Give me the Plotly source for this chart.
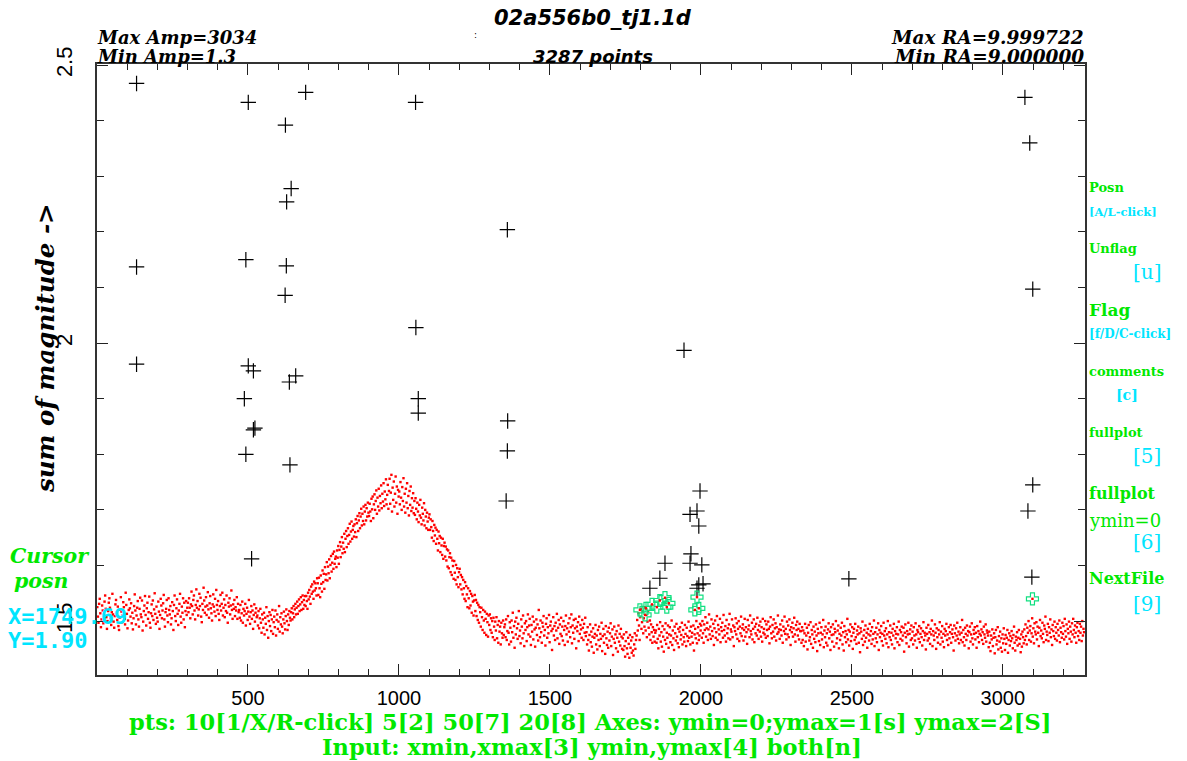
import plotly.graph_objects as go

# ---------------- data ----------------
# red points: sum of magnitude, stored as thousandths above 1.0,
# one value for every 2nd point number (1, 3, 5, ...)
band_step = 2
band_y_milli = [
    # 1-300
    525,508,497,531,540,514,489,503,528,519,
    496,511,535,546,522,507,486,500,518,533,
    541,524,505,493,516,549,512,499,488,509,
    530,538,515,502,526,491,484,506,521,543,
    517,498,510,534,525,504,494,551,529,513,
    487,501,520,539,523,508,532,496,515,485,
    505,527,548,519,494,510,524,536,503,490,
    522,542,512,507,537,483,499,518,528,545,
    511,492,523,533,504,516,544,497,488,514,
    530,509,537,502,521,550,513,495,526,506,
    499,535,517,486,511,540,528,505,519,532,
    547,503,490,516,522,538,510,498,541,520,
    512,527,494,505,534,518,484,529,546,509,
    500,523,539,513,493,519,531,549,508,497,
    526,515,541,503,533,489,518,536,511,524,
    # 301-470
    533,516,541,524,505,530,553,527,512,538,
    546,519,503,529,557,524,536,510,521,549,
    527,542,508,498,531,520,560,537,515,526,
    543,511,528,552,521,506,532,545,523,514,
    501,530,548,526,517,540,509,556,529,520,
    536,513,502,527,547,519,531,551,510,524,
    539,507,529,518,546,515,497,533,526,541,
    512,528,555,520,504,530,522,538,509,525,
    519,543,504,531,516,
    # 471-530
    520,506,529,501,514,535,497,522,510,518,
    531,492,513,524,502,517,538,508,495,516,
    527,504,519,486,511,530,499,515,523,507,
    # 531-640
    510,492,518,487,505,522,497,479,512,503,
    488,515,476,506,495,525,484,509,470,500,
    516,491,511,482,503,520,477,498,508,489,
    519,474,502,512,486,499,527,481,507,494,
    514,490,478,503,517,496,485,509,521,500,
    484,512,493,518,506,
    # 641-690
    501,516,523,503,514,527,507,521,531,512,
    524,535,513,527,539,518,530,543,520,534,
    546,522,538,529,545,
    # 691-730
    527,545,536,522,551,539,556,544,531,562,
    549,566,553,540,571,555,568,559,546,577,
    # 731-790
    568,547,578,559,543,582,567,553,591,570,
    585,558,597,574,584,606,573,598,586,611,
    577,601,617,589,605,621,594,625,603,612,
    # 791-850
    616,597,627,614,635,603,628,642,615,634,
    651,622,641,630,657,624,648,662,633,653,
    667,639,655,675,643,661,679,648,664,671,
    # 851-900
    652,674,660,683,651,676,689,662,681,694,
    667,688,702,672,693,680,706,674,697,709,
    681,703,688,713,695,
    # 901-960
    689,711,697,680,720,701,724,685,710,728,
    700,716,735,693,722,706,738,699,725,712,
    744,703,729,715,748,707,733,719,755,710,
    # 961-1000
    727,745,702,734,756,711,731,763,697,740,
    718,751,706,729,760,713,742,693,736,724,
    # 1001-1050
    733,710,750,722,700,741,716,757,706,729,
    695,738,713,748,703,725,690,734,709,742,
    698,721,704,730,694,
    # 1051-1100
    716,691,721,702,683,713,697,678,709,690,
    718,686,674,704,693,681,712,672,700,688,
    667,695,679,664,686,
    # 1101-1150
    692,664,683,669,650,680,662,644,673,654,
    668,639,664,648,627,661,640,653,624,650,
    636,619,648,612,635,
    # 1151-1200
    641,616,634,609,629,598,627,595,615,622,
    588,614,583,609,599,576,608,587,574,601,
    566,595,579,561,588,
    # 1201-1250
    594,566,583,557,579,548,574,559,540,570,
    536,563,548,525,559,541,523,554,528,549,
    515,545,535,510,537,
    # 1251-1300
    547,518,538,509,533,502,529,497,525,516,
    490,524,507,484,520,501,479,517,504,475,
    513,498,472,510,493,
    # 1301-1350
    512,484,505,479,500,471,506,490,466,499,
    483,507,469,493,461,500,481,490,458,497,
    478,470,501,475,489,
    # 1351-1620
    494,471,503,466,482,509,479,458,498,488,
    463,501,480,515,470,491,452,499,476,506,
    487,468,495,518,473,483,460,503,490,469,
    510,478,455,496,484,500,464,489,512,476,
    492,504,472,457,493,481,508,467,499,485,
    454,488,503,475,494,465,520,487,471,501,
    480,461,497,490,509,474,484,456,495,505,
    470,489,478,511,462,492,499,482,448,486,
    507,474,491,466,497,483,513,469,488,502,
    459,494,477,506,473,490,465,500,484,457,
    491,510,476,487,463,496,481,505,471,489,
    512,460,492,479,502,468,487,504,451,490,
    482,498,464,508,477,493,485,470,502,488,
    466,495,479,506,473,
    # 1621-1740
    480,458,489,466,447,475,494,462,481,454,
    472,487,443,470,477,493,458,474,449,484,
    466,490,455,477,468,497,446,473,486,461,
    476,441,491,469,457,481,452,488,465,478,
    496,455,472,485,439,468,490,461,476,451,
    482,470,445,492,463,477,456,486,472,450,
    # 1741-1785
    469,448,476,455,436,464,480,451,441,470,
    459,434,475,452,465,443,471,447,438,458,
    478,450,466,
    # 1786-1850
    474,502,483,514,492,466,507,522,486,498,
    517,478,505,490,525,483,511,471,499,518,
    488,476,501,466,494,480,461,489,472,484,
    463,479,
    # 1851-2000
    483,461,493,468,451,486,474,498,463,480,
    454,491,472,445,485,466,496,459,479,470,
    492,452,476,489,462,474,501,457,483,469,
    448,490,478,465,495,472,460,486,453,481,
    489,467,475,497,458,484,471,463,493,477,
    455,488,473,464,499,470,482,458,490,472,
    479,461,492,447,476,486,469,500,460,478,
    489,466,474,495,483,
    # 2001-2330
    492,470,500,478,461,494,484,507,472,487,
    497,466,485,512,476,490,468,503,482,473,
    495,457,487,501,470,480,509,466,493,485,
    476,504,462,489,482,497,470,511,484,474,
    491,463,502,478,487,469,494,513,467,485,
    481,503,471,492,455,489,482,505,476,496,
    468,486,500,464,490,478,508,473,487,494,
    465,484,504,472,489,480,459,502,485,492,
    471,510,482,476,497,467,486,503,462,490,
    478,495,474,506,484,468,492,481,499,472,
    489,463,504,479,486,476,500,470,494,484,
    473,499,486,460,490,507,478,469,493,481,
    503,472,487,496,465,489,477,510,480,485,
    468,494,484,474,501,461,490,482,508,477,
    486,467,499,476,492,471,503,484,457,489,
    480,497,472,487,506,476,463,493,484,499,
    474,486,467,495,482,
    # 2331-2950
    482,461,489,466,483,455,478,495,463,474,
    488,449,479,493,465,471,498,459,484,476,
    452,490,468,481,462,494,474,446,486,478,
    464,497,457,479,489,467,476,502,453,483,
    471,490,461,478,456,485,496,469,481,448,
    489,475,463,494,476,454,486,480,500,460,
    469,483,492,451,477,466,488,474,497,458,
    480,447,491,471,482,462,476,504,467,484,
    456,481,494,464,473,489,450,479,486,466,
    495,471,459,483,476,490,461,478,444,487,
    481,468,499,457,474,484,463,492,470,479,
    452,486,476,465,495,474,482,459,489,467,
    477,501,455,480,469,488,462,476,496,448,
    484,471,479,491,464,477,456,497,474,482,
    468,487,460,476,500,453,480,471,492,466,
    479,458,486,474,495,451,482,469,477,489,
    462,476,499,457,484,468,480,490,465,474,
    488,445,479,494,471,460,482,476,497,454,
    477,485,466,492,469,481,458,489,474,465,
    496,476,452,484,480,468,491,462,477,487,
    471,456,482,498,466,479,474,449,488,477,
    465,493,469,480,459,486,476,501,455,482,
    474,466,494,479,450,487,471,461,484,476,
    498,458,481,470,491,463,477,453,486,474,
    482,495,466,476,457,489,469,480,493,461,
    477,485,471,447,492,478,465,487,474,497,
    468,481,460,476,489,466,479,502,462,484,
    471,456,488,477,466,492,474,482,451,480,
    490,463,476,496,469,458,484,477,489,467,
    479,452,491,471,482,462,477,499,474,485,
    466,480,459,490,476,470,494,463,483,479,
    # 2951-3070
    474,453,481,461,446,474,467,485,455,470,
    478,442,471,484,458,465,489,449,473,463,
    481,452,469,445,476,460,487,468,448,475,
    459,470,484,443,466,478,456,473,464,482,
    469,451,475,490,461,447,472,466,480,456,
    470,484,459,468,444,476,454,481,471,460,
    # 3071-3270
    485,466,494,473,458,488,479,500,466,483,
    491,463,478,505,472,487,460,496,481,476,
    498,467,490,479,455,488,502,473,483,469,
    497,477,462,492,486,508,466,481,475,495,
    464,489,479,503,471,485,457,493,482,473,
    499,468,489,479,465,495,484,474,501,462,
    488,480,470,497,477,491,467,504,482,472,
    494,459,486,478,499,468,490,481,463,496,
    476,504,484,471,492,479,461,489,497,473,
    482,466,495,479,490,464,500,474,486,480,
]
band_x = [1 + band_step * k for k in range(len(band_y_milli))]
band_y = [1 + v / 1000 for v in band_y_milli]

# black crosses (unflagged outliers)
outlier_x = [131, 501, 691, 1055, 624, 643, 628, 1359, 131, 493, 627, 623, 1056,
             131, 501, 518, 658, 637, 488, 1064, 1064, 523, 518, 1360, 493, 1359,
             639, 1355, 512, 3073, 3089, 3099, 3099, 3083, 3096, 2490, 1944, 1997,
             1964, 1987, 1993, 1967, 1964, 2003, 1881, 1864, 1831, 1993, 2007, 1987]
outlier_y = [2.467, 2.433, 2.451, 2.433, 2.392, 2.278, 2.254, 2.204, 2.137, 2.150,
             2.139, 2.086, 2.028, 1.962, 1.959, 1.950, 1.941, 1.930, 1.900, 1.900,
             1.874, 1.847, 1.844, 1.860, 1.800, 1.806, 1.781, 1.716, 1.612, 2.442,
             2.360, 2.097, 1.745, 1.698, 1.579, 1.576, 1.987, 1.734, 1.692, 1.698,
             1.671, 1.621, 1.604, 1.601, 1.604, 1.577, 1.559, 1.565, 1.567, 1.559]

# green open crosses (flagged points)
flag_x = [1798, 1818, 1815, 1838, 1854, 1864, 1881, 1887, 1894, 1987, 1980, 1993, 3098]
flag_y = [1.520, 1.523, 1.511, 1.530, 1.525, 1.537, 1.542, 1.525, 1.532, 1.543,
          1.520, 1.523, 1.540]

x_tick_vals = [500, 1000, 1500, 2000, 2500, 3000]
y_tick_vals = [1.5, 2.0, 2.5]
y_tick_text = ["1.5", "2", "2.5"]
x_range = [0, 3272]
y_range = [1.403, 2.502]

# ---------------- figure ----------------
W, H = 1187, 761
L, R, T, B = 97, 1085, 64, 675
GREEN = "#00e800"
CYAN = "#00e5ff"
FLAG = "#10e080"

fig = go.Figure()
fig.add_trace(go.Scatter(x=band_x, y=band_y, mode="markers",
                         marker=dict(symbol="square", size=2.4, color="#ff0000",
                                     line=dict(width=0)),
                         hoverinfo="skip"))
fig.add_trace(go.Scatter(x=outlier_x, y=outlier_y, mode="markers",
                         marker=dict(symbol="cross-thin", size=11,
                                     line=dict(width=1.2, color="black")),
                         hoverinfo="skip"))
fig.add_trace(go.Scatter(x=flag_x, y=flag_y, mode="markers",
                         marker=dict(symbol="cross-open", size=10, color=FLAG,
                                     line=dict(width=1.2, color=FLAG)),
                         hoverinfo="skip"))
fig.add_trace(go.Scatter(x=flag_x, y=flag_y, mode="markers",
                         marker=dict(symbol="square", size=2.4, color="#ff0000"),
                         hoverinfo="skip"))


def ann(text, px, py, size, color, family, xanchor="left", weight="normal",
        style="normal", angle=0):
    return dict(text=text, x=(px - L) / (R - L), y=(B - py) / (B - T),
                xref="paper", yref="paper", xanchor=xanchor, yanchor="middle",
                showarrow=False, textangle=angle,
                font=dict(size=size, color=color, family=family,
                          weight=weight, style=style))


SERIF = "DejaVu Serif"
annots = [
    ann("02a556b0_tj1.1d", 593, 18, 21, "black", "DejaVu Sans", "center", "bold", "italic"),
    ann(":", 475, 35, 9, "black", "DejaVu Sans", "center"),
    ann("Max Amp=3034", 95, 37, 18, "black", SERIF, "left", "bold", "italic"),
    ann("Min Amp=1.3", 95, 56, 18, "black", SERIF, "left", "bold", "italic"),
    ann("3287 points", 593, 56, 18, "black", "DejaVu Sans", "center", "bold", "italic"),
    ann("Max RA=9.999722", 1086, 37, 18.5, "black", SERIF, "right", "bold", "italic"),
    ann("Min RA=9.000000", 1086, 56, 18.5, "black", SERIF, "right", "bold", "italic"),
    ann("sum of magnitude ->", 45, 348, 24.5, "black", SERIF, "center", "bold", "italic", -90),
    # right-hand menu
    ann("Posn", 1087, 187, 13, GREEN, SERIF, "left", "bold"),
    ann("[A/L-click]", 1087, 212, 11.5, CYAN, SERIF, "left", "bold"),
    ann("Unflag", 1087, 248, 13, GREEN, SERIF, "left", "bold"),
    ann("[u]", 1147, 272, 20, CYAN, SERIF, "center"),
    ann("Flag", 1087, 310, 17, GREEN, SERIF, "left", "bold"),
    ann("[f/D/C-click]", 1087, 334, 12, CYAN, SERIF, "left", "bold"),
    ann("comments", 1087, 371, 13, GREEN, SERIF, "left", "bold"),
    ann("[c]", 1127, 395, 14, CYAN, SERIF, "center", "bold"),
    ann("fullplot", 1087, 433, 13, GREEN, SERIF, "left", "bold"),
    ann("[5]", 1147, 456, 20, CYAN, SERIF, "center"),
    ann("fullplot", 1087, 493, 16, GREEN, SERIF, "left", "bold"),
    ann("ymin=0", 1087, 520, 18, GREEN, SERIF, "left"),
    ann("[6]", 1147, 542, 20, CYAN, SERIF, "center"),
    ann("NextFile", 1087, 578, 16, GREEN, SERIF, "left", "bold"),
    ann("[9]", 1147, 604, 20, CYAN, SERIF, "center"),
    # cursor block
    ann("Cursor", 8, 556, 20.5, GREEN, SERIF, "left", "bold", "italic"),
    ann("posn", 12, 581, 20.5, GREEN, SERIF, "left", "bold", "italic"),
    ann("X=1749.69", 6, 616, 22, CYAN, "DejaVu Sans Mono", "left", "bold"),
    ann("Y=1.90", 6, 640, 22, CYAN, "DejaVu Sans Mono", "left", "bold"),
    # bottom menu
    ann("pts: 10[1/X/R-click] 5[2] 50[7] 20[8] Axes: ymin=0;ymax=1[s] ymax=2[S]",
        590, 722, 22.5, GREEN, SERIF, "center", "bold"),
    ann("Input: xmin,xmax[3] ymin,ymax[4] both[n]",
        592, 747, 22.5, GREEN, SERIF, "center", "bold"),
]

axis_common = dict(showline=True, linecolor="#333333", linewidth=1.5, mirror="allticks",
                   ticks="inside", ticklen=11, tickwidth=1.2, tickcolor="#222222",
                   showgrid=False, zeroline=False,
                   tickfont=dict(family="Liberation Sans", size=20, color="black"))

fig.update_layout(
    width=W, height=H, autosize=False,
    margin=dict(l=L, r=W - R, t=T, b=H - B, pad=0),
    paper_bgcolor="white", plot_bgcolor="white",
    showlegend=False,
    annotations=annots,
    xaxis=dict(range=x_range, tickvals=x_tick_vals, ticklabelstandoff=4,
               minor=dict(dtick=100, tick0=0, ticks="inside", ticklen=6,
                          tickwidth=1.2, tickcolor="#222222"),
               **axis_common),
    yaxis=dict(range=y_range, tickvals=y_tick_vals, ticktext=y_tick_text,
               tickangle=-90, ticklabelstandoff=14,
               minor=dict(dtick=0.1, tick0=1.5, ticks="inside", ticklen=7,
                          tickwidth=1.2, tickcolor="#222222"),
               **axis_common),
)
fig.update_yaxes(tickfont=dict(family="Liberation Sans", size=22, color="black"))

fig.write_html("out.html")
